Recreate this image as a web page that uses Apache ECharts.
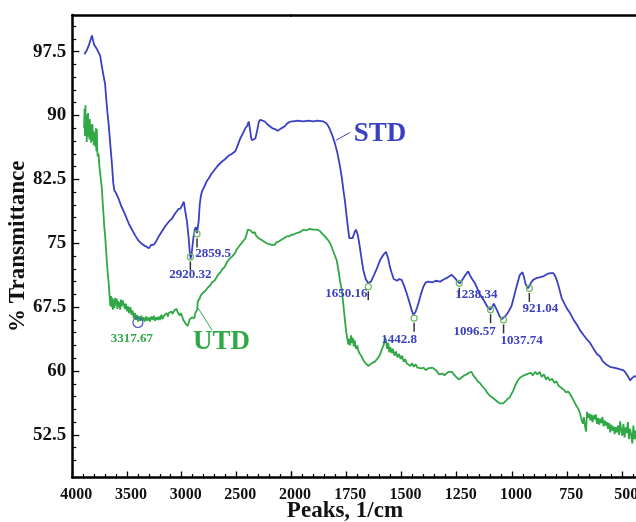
<!DOCTYPE html>
<html>
<head>
<meta charset="utf-8">
<script src="https://cdn.jsdelivr.net/npm/echarts@6/dist/echarts.min.js"></script>
<style>html,body{margin:0;padding:0;background:#fff}#c{width:636px;height:522px}</style>
</head>
<body>
<div id="c"></div>
<script>
// ---------------- data ----------------
const xTicksHigh = [4000, 3500, 3000, 2500, 2000];
const xTicksLow = [1750, 1500, 1250, 1000, 750, 500];
const yTickLabels = [52.5, 60, 67.5, 75, 82.5, 90, 97.5];

const stdSpectrum = [
[3890,97.2],[3870,97.6],[3850,98.2],[3830,99.0],[3820,99.4],[3810,98.8],[3800,98.3],[3790,98.1],[3775,97.8],[3760,97.9],[3745,97.0],[3730,95.8],[3715,94.7],[3700,93.7],[3690,92.0],[3680,90.5],[3667,88.9],[3652,86.5],[3637,84.2],[3625,82.0],[3615,81.2],[3600,80.9],[3576,80.2],[3550,79.3],[3515,78.3],[3480,77.2],[3450,76.5],[3424,75.9],[3400,75.4],[3370,75.0],[3340,74.7],[3320,74.6],[3300,74.4],[3280,74.8],[3256,74.8],[3230,75.3],[3210,75.8],[3180,76.4],[3150,77.0],[3120,77.5],[3088,77.9],[3060,78.5],[3030,79.0],[3010,79.1],[2990,79.6],[2980,79.9],[2970,79.0],[2951,77.5],[2935,75.5],[2925,73.8],[2918,73.2],[2910,73.6],[2900,74.8],[2890,75.9],[2880,76.6],[2870,76.9],[2860,76.2],[2852,76.1],[2845,77.5],[2835,79.5],[2825,80.5],[2814,81.1],[2790,81.7],[2770,82.3],[2753,82.6],[2730,83.1],[2700,83.6],[2670,84.1],[2631,84.6],[2600,84.9],[2570,85.3],[2540,85.5],[2509,85.8],[2490,86.4],[2464,87.3],[2440,87.9],[2418,88.5],[2400,88.8],[2387,89.3],[2375,88.4],[2365,87.4],[2357,87.1],[2340,87.0],[2326,87.3],[2310,88.2],[2295,89.2],[2281,89.5],[2260,89.4],[2240,89.3],[2220,89.0],[2204,88.9],[2190,88.7],[2170,88.5],[2144,88.4],[2120,88.2],[2100,88.4],[2083,88.5],[2060,88.7],[2040,89.0],[2020,89.2],[2000,89.3],
[1990,89.3],[1970,89.4],[1944,89.3],[1920,89.4],[1900,89.3],[1880,89.4],[1854,89.3],[1840,89.1],[1830,88.7],[1823,88.3],[1812,87.6],[1801,86.7],[1790,85.6],[1778,84.0],[1770,82.7],[1763,81.3],[1755,79.8],[1748,78.1],[1742,76.8],[1736,75.6],[1728,75.4],[1721,75.6],[1712,76.3],[1706,76.6],[1698,76.0],[1691,75.0],[1682,73.4],[1673,71.9],[1662,70.8],[1650,70.3],[1638,70.5],[1627,71.1],[1612,72.0],[1597,73.0],[1583,73.6],[1570,74.0],[1560,73.2],[1552,72.2],[1544,71.5],[1535,70.8],[1520,70.6],[1510,70.8],[1499,70.7],[1488,70.0],[1476,69.1],[1462,67.9],[1452,67.0],[1446,66.6],[1437,66.9],[1430,67.4],[1423,68.0],[1412,69.0],[1401,69.9],[1390,70.4],[1378,70.5],[1360,70.4],[1345,70.6],[1325,70.5],[1305,70.8],[1290,71.0],[1272,71.3],[1258,70.9],[1245,70.5],[1235,70.3],[1222,70.8],[1210,71.3],[1198,71.7],[1185,71.0],[1175,70.6],[1167,70.3],[1155,69.6],[1145,69.0],[1137,68.7],[1125,68.2],[1112,67.6],[1099,67.2],[1090,67.5],[1082,67.9],[1077,67.8],[1065,67.0],[1055,66.4],[1045,66.1],[1039,66.0],[1028,66.5],[1015,67.0],[1002,67.6],[990,68.8],[978,70.0],[964,71.3],[952,71.6],[945,71.0],[938,70.2],[927,69.7],[915,70.3],[904,70.7],[890,70.9],[875,71.0],[859,71.1],[840,71.4],[825,71.5],[813,71.5],[805,71.2],[797,70.7],[787,69.8],[775,68.6],[760,67.8],[750,67.3],[737,66.8],[720,66.0],[705,65.4],[692,64.8],[675,64.2],[660,63.7],[646,63.3],[630,62.6],[615,62.0],[601,61.7],[590,61.2],[575,60.8],[556,60.5],[540,60.4],[525,60.3],[510,60.2],[496,60.1],[485,59.8],[475,59.4],[465,58.9],[455,59.2],[445,59.4],[435,59.3]
];

const utdSpectrum = [
[3892,88.5],[3888,90.8],[3884,87.6],[3880,91.2],[3876,88.2],[3872,90.1],[3868,86.9],[3864,89.8],[3860,88.0],[3856,90.3],[3852,87.5],[3848,89.1],[3844,87.2],[3840,89.6],[3836,87.8],[3832,88.9],[3828,86.8],[3824,88.6],[3820,87.4],[3816,89.0],[3812,87.0],[3808,88.2],[3804,86.5],[3800,88.0],[3796,86.9],[3792,87.8],[3788,86.3],[3784,88.5],[3780,85.8],[3776,88.4],[3772,86.0],[3768,85.2],[3760,85.5],[3752,84.0],[3745,83.2],[3738,82.4],[3730,81.5],[3722,79.8],[3715,78.5],[3708,77.0],[3700,75.9],[3692,74.4],[3685,73.0],[3677,71.6],[3667,70.3],[3660,69.0],[3652,67.6],[3646,68.8],[3640,67.5],[3634,68.6],[3628,67.2],[3621,68.4],[3615,67.4],[3608,68.6],[3600,67.7],[3594,68.5],[3588,67.3],[3582,68.2],[3576,67.5],[3570,68.1],[3562,67.2],[3555,68.4],[3548,67.6],[3540,68.3],[3530,67.9],[3520,67.3],[3510,67.9],[3500,67.0],[3490,67.6],[3480,66.8],[3469,67.5],[3458,66.6],[3448,67.1],[3438,66.2],[3428,66.8],[3418,66.0],[3408,66.6],[3398,65.8],[3388,66.4],[3378,65.9],[3368,66.5],[3358,65.9],[3347,66.3],[3336,65.8],[3325,66.4],[3314,65.9],[3301,66.3],[3290,65.8],[3278,66.4],[3266,66.0],[3255,66.5],[3243,65.9],[3232,66.3],[3220,66.0],[3210,66.4],[3198,66.0],[3186,66.6],[3174,66.1],[3162,66.5],[3150,66.3],[3138,66.8],[3126,66.4],[3118,66.8],[3106,66.6],[3094,67.0],[3082,66.7],[3070,67.1],[3058,67.0],[3046,67.3],[3040,67.0],[3030,66.9],[3018,66.5],[3008,66.8],[2997,66.5],[2985,66.0],[2975,65.8],[2965,65.6],[2955,65.5],[2945,65.3],[2935,65.7],[2925,66.1],[2915,65.9],[2905,66.3],[2895,66.5],[2885,66.2],[2875,66.8],[2865,66.6],[2858,67.2],[2852,68.2],[2845,68.4],[2835,68.5],[2825,68.9],[2815,69.0],[2805,69.2],[2795,69.1],[2784,69.4],[2772,69.6],[2760,69.8],[2748,70.0],[2736,70.1],[2724,70.4],[2712,70.4],[2700,70.6],[2692,70.8],[2680,71.0],[2668,71.3],[2656,71.5],[2644,71.6],[2632,71.9],[2620,72.1],[2608,72.2],[2598,72.4],[2585,72.8],[2572,72.9],[2560,73.2],[2548,73.3],[2536,73.5],[2524,73.6],[2509,73.9],[2495,74.3],[2480,74.5],[2466,74.8],[2452,75.0],[2440,75.2],[2428,75.4],[2418,75.6],[2405,76.1],[2395,76.6],[2387,76.8],[2378,76.7],[2368,76.5],[2360,76.6],[2350,76.2],[2340,76.0],[2330,76.3],[2320,75.9],[2310,76.0],[2296,75.6],[2284,75.7],[2272,75.4],[2260,75.5],[2248,75.2],[2236,75.3],[2224,75.0],[2212,75.1],[2200,74.9],[2188,75.0],[2174,74.8],[2160,75.0],[2148,74.8],[2136,75.1],[2124,75.0],[2112,75.2],[2100,75.1],[2088,75.4],[2076,75.3],[2064,75.6],[2052,75.6],[2040,75.8],[2028,75.9],[2016,75.8],[2000,76.0],
[1990,76.0],[1975,76.2],[1960,76.3],[1944,76.6],[1930,76.5],[1915,76.7],[1900,76.6],[1884,76.6],[1872,76.5],[1861,76.2],[1850,75.9],[1840,75.6],[1830,75.3],[1823,75.0],[1815,74.5],[1805,73.8],[1793,73.0],[1785,71.8],[1778,70.6],[1770,69.5],[1763,67.8],[1756,66.0],[1750,64.6],[1744,63.6],[1740,63.1],[1736,63.8],[1732,63.0],[1728,64.2],[1724,63.3],[1720,63.9],[1716,62.9],[1712,63.6],[1706,62.6],[1700,63.0],[1694,62.3],[1688,62.0],[1680,61.7],[1673,61.3],[1665,61.0],[1657,60.9],[1650,60.6],[1643,60.5],[1635,60.9],[1627,60.7],[1620,61.1],[1612,60.9],[1604,61.6],[1596,62.0],[1588,62.6],[1580,63.1],[1574,63.9],[1570,63.6],[1565,62.6],[1560,63.3],[1555,62.2],[1550,62.8],[1544,62.1],[1538,62.6],[1532,61.8],[1525,62.3],[1518,61.6],[1511,62.0],[1504,61.4],[1497,61.8],[1490,61.1],[1483,61.4],[1476,60.9],[1468,61.1],[1460,60.6],[1452,60.9],[1444,60.5],[1436,60.8],[1428,60.4],[1420,60.6],[1410,60.3],[1400,60.4],[1390,60.1],[1380,60.3],[1371,60.1],[1360,60.4],[1350,60.2],[1340,60.0],[1330,59.6],[1325,59.4],[1315,59.7],[1305,59.5],[1296,59.7],[1288,59.9],[1280,60.1],[1272,59.9],[1264,59.7],[1256,59.4],[1248,59.3],[1240,59.0],[1235,59.1],[1225,59.3],[1215,59.5],[1205,59.6],[1195,59.8],[1183,59.9],[1175,59.5],[1165,59.2],[1155,58.8],[1145,58.6],[1137,58.3],[1129,58.2],[1120,57.8],[1110,57.4],[1100,57.1],[1092,56.9],[1084,56.8],[1075,56.6],[1065,56.4],[1055,56.2],[1047,56.0],[1039,56.2],[1030,56.4],[1020,56.7],[1010,56.9],[1002,57.1],[994,57.7],[985,58.3],[975,58.8],[964,59.2],[955,59.3],[945,59.5],[934,59.6],[925,59.4],[915,59.8],[905,59.5],[895,59.9],[885,59.6],[874,59.9],[865,59.3],[855,59.6],[845,59.0],[838,59.3],[828,58.9],[818,59.1],[808,58.6],[798,58.8],[790,58.3],[783,58.5],[775,58.0],[765,57.8],[755,57.5],[745,57.6],[737,57.3],[728,56.9],[718,56.4],[708,55.9],[700,55.6],[692,55.1],[685,54.3],[679,53.8],[674,54.6],[669,53.5],[664,52.9],[660,55.2],[655,54.5],[650,55.0],[645,54.2],[640,54.9],[635,54.0],[630,54.8],[625,54.3],[620,54.9],[615,53.8],[610,54.5],[605,53.7],[600,54.4],[595,53.9],[590,54.6],[585,53.5],[580,54.2],[575,53.6],[570,54.0],[565,53.2],[560,53.9],[555,52.8],[550,53.7],[545,53.0],[540,53.5],[535,52.6],[530,53.4],[525,52.8],[520,53.6],[515,52.5],[510,54.1],[505,53.0],[500,52.4],[495,53.8],[490,52.2],[485,53.4],[480,52.7],[475,54.0],[470,52.0],[465,53.2],[460,52.5],[455,51.5],[450,53.6],[445,52.0],[440,53.0],[435,51.8]
];

// peak annotations on STD: [wavenumber, transmittance, label]
const stdPeaks = [
[2920.32, 73.4, '2920.32'],
[2859.5, 76.1, '2859.5'],
[1650.16, 69.9, '1650.16'],
[1442.8, 66.2, '1442.8'],
[1238.34, 70.3, '1238.34'],
[1096.57, 67.2, '1096.57'],
[1037.74, 66.0, '1037.74'],
[921.04, 69.7, '921.04']
];
// peak annotation on UTD
const utdPeak = [3400, 65.7, '3317.67'];
// series names
const seriesNames = ['STD', 'UTD'];

// ---------------- styling / layout ----------------
const BLUE = '#3b40c2';
const GREEN = '#2fa845';
const SERIF = '"Liberation Serif", "Times New Roman", serif';
const labelOffsets = {
  '2920.32': [0, 18], '2859.5': [16, 20], '1650.16': [-22, 7], '1442.8': [-15, 21],
  '1238.34': [17, 11], '1096.57': [-16, 22], '1037.74': [18, 21], '921.04': [11, 20]
};
const yMin = 47.5, yMax = 101.8;
const yMinor = [];
for (let v = 52.5 - 3; v <= yMax; v += 1.5) {
  const r = Math.round(v * 10) / 10;
  if (r > yMin && !yTickLabels.includes(r)) yMinor.push(r);
}

const split = (arr, hi) => arr.filter(p => hi ? p[0] >= 2000 : p[0] <= 2000);

function peakMarks(peaks, textColor, circleColor, circleSize, withStem) {
  const out = [];
  peaks.forEach(p => {
    const off = labelOffsets[p[2]] || [-6, 16];
    out.push({
      coord: [p[0], p[1]], symbol: 'circle', symbolSize: circleSize,
      itemStyle: { color: 'rgba(0,0,0,0)', borderColor: circleColor, borderWidth: 1.2 },
      label: { show: true, formatter: p[2], position: 'inside', offset: off,
        color: textColor, fontSize: 13, fontWeight: 'bold', fontFamily: SERIF }
    });
    if (withStem) out.push({
      coord: [p[0], p[1]], symbol: 'rect', symbolSize: [1.5, 9], symbolOffset: [0, 9],
      itemStyle: { color: '#333' }, label: { show: false }
    });
  });
  return out;
}
function textMark(coord, text, color) {
  return { coord, symbol: 'circle', symbolSize: 1, itemStyle: { color: 'rgba(0,0,0,0)' },
    label: { show: true, formatter: text, position: 'inside', color,
      fontSize: 27, fontWeight: 'bold', fontFamily: SERIF } };
}

const gridTop = 15, gridH = 462.5;
const axisLineStyle = { color: '#000', width: 2.5 };
const tickLabelStyle = { color: '#111', fontWeight: 'bold', fontFamily: SERIF };

function xAxisPair(gi, min, max, interval, hideLabel) {
  return [{
    type: 'value', gridIndex: gi, min, max, interval, inverse: true, position: 'bottom',
    axisLine: { show: true, onZero: false, lineStyle: axisLineStyle },
    axisTick: { show: true, inside: true, length: 6, lineStyle: { color: '#000', width: 1.3 } },
    minorTick: { show: true, splitNumber: 5, length: 3.5, lineStyle: { color: '#000', width: 1.2 } },
    axisLabel: Object.assign({ fontSize: 16, margin: 9, padding: [0, 0, 0, 8],
      formatter: v => (hideLabel && v === hideLabel) ? '' : String(v) }, tickLabelStyle),
    splitLine: { show: false }
  }, {
    type: 'value', gridIndex: gi, min, max, inverse: true, position: 'top',
    axisLine: { show: true, onZero: false, lineStyle: axisLineStyle },
    axisTick: { show: false }, axisLabel: { show: false }, splitLine: { show: false }
  }];
}

const option = {
  animation: false,
  backgroundColor: '#fff',
  grid: [
    { left: 72.3, top: gridTop, width: 218.7, height: gridH, outerBoundsMode: 'none', containLabel: false },
    { left: 291, top: gridTop, width: (2000 - 250) * 0.2209, height: gridH, outerBoundsMode: 'none', containLabel: false }
  ],
  xAxis: [
    ...xAxisPair(0, xTicksHigh[xTicksHigh.length - 1], xTicksHigh[0], 500, null),
    ...xAxisPair(1, 250, xTicksHigh[xTicksHigh.length - 1], 250, 2000)
  ],
  yAxis: [
    { type: 'value', gridIndex: 0, min: yMin, max: yMax, position: 'left',
      name: '% Transmittance', nameLocation: 'middle', nameGap: 33,
      nameTextStyle: { fontSize: 23, fontWeight: 'bold', fontFamily: SERIF, color: '#111' },
      axisLine: { show: true, onZero: false, lineStyle: axisLineStyle },
      axisTick: { show: true, inside: true, length: 7, customValues: yTickLabels, lineStyle: { color: '#000', width: 1.3 } },
      axisLabel: Object.assign({ fontSize: 19, margin: 6, customValues: yTickLabels, formatter: v => String(v) }, tickLabelStyle),
      splitLine: { show: false } },
    { type: 'value', gridIndex: 0, min: yMin, max: yMax, position: 'left',
      axisLine: { show: false },
      axisTick: { show: true, inside: true, length: 4, customValues: yMinor, lineStyle: { color: '#000', width: 1.2 } },
      axisLabel: { show: false }, splitLine: { show: false } },
    { type: 'value', gridIndex: 1, min: yMin, max: yMax, show: false, splitLine: { show: false } }
  ],
  graphic: [{
    type: 'text', x: 345, y: 511,
    style: { text: 'Peaks, 1/cm', textAlign: 'center', textVerticalAlign: 'middle',
      fill: '#111', font: 'bold 23px ' + SERIF }
  }],
  series: [
    { name: seriesNames[0] + '-hi', type: 'line', xAxisIndex: 0, yAxisIndex: 0, data: split(stdSpectrum, true),
      showSymbol: false, lineStyle: { color: BLUE, width: 1.8 }, z: 3,
      markPoint: { silent: true, data: peakMarks(stdPeaks.filter(p => p[0] >= 2000), BLUE, '#6dbb5f', 6, true) } },
    { name: seriesNames[0] + '-lo', type: 'line', xAxisIndex: 2, yAxisIndex: 2, data: split(stdSpectrum, false),
      showSymbol: false, lineStyle: { color: BLUE, width: 1.8 }, z: 3,
      markPoint: { silent: true, data: peakMarks(stdPeaks.filter(p => p[0] < 2000), BLUE, '#6dbb5f', 6, true)
        .concat([textMark([1597, 87.84], seriesNames[0], BLUE)]) },
      markLine: { silent: true, symbol: ['none', 'none'], label: { show: false },
        lineStyle: { color: BLUE, width: 1, type: 'solid' },
        data: [[{ coord: [1796, 87.1] }, { coord: [1733, 88.0] }]] } },
    { name: seriesNames[1] + '-hi', type: 'line', xAxisIndex: 0, yAxisIndex: 0, data: split(utdSpectrum, true),
      showSymbol: false, lineStyle: { color: GREEN, width: 1.8 }, z: 2,
      markPoint: { silent: true, data: peakMarks([utdPeak], GREEN, '#4a52d0', 10, false)
        .concat([textMark([2636, 63.4], seriesNames[1], GREEN)]) },
      markLine: { silent: true, symbol: ['none', 'none'], label: { show: false },
        lineStyle: { color: GREEN, width: 1, type: 'solid' },
        data: [[{ coord: [2850, 67.4] }, { coord: [2722, 64.8] }]] } },
    { name: seriesNames[1] + '-lo', type: 'line', xAxisIndex: 2, yAxisIndex: 2, data: split(utdSpectrum, false),
      showSymbol: false, lineStyle: { color: GREEN, width: 1.8 }, z: 2 }
  ]
};

const chart = echarts.init(document.getElementById('c'), null, { renderer: 'canvas' });
chart.setOption(option);
</script>
</body>
</html>
